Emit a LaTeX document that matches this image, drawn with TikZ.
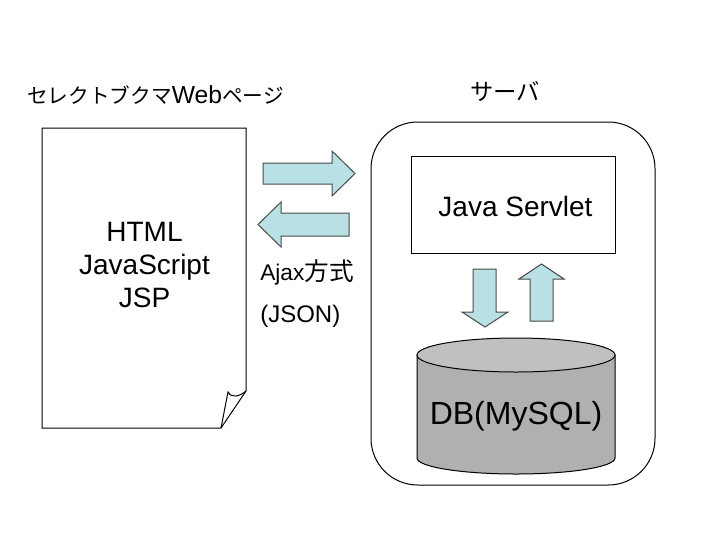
\documentclass[tikz,border=0pt]{standalone}
\usepackage{fontspec}
\setmainfont{Liberation Sans}
\newfontfamily\cjk{Noto Sans CJK JP}
\definecolor{arrowfill}{HTML}{B9E0E4}
\definecolor{arrowline}{HTML}{4A4A4A}
\definecolor{dbtop}{HTML}{C0C0C0}
\definecolor{dbbody}{HTML}{B0B0B0}
\tikzset{
  blockarrow/.style={draw=arrowline,fill=arrowfill,line width=0.75pt,line join=miter},
  outline/.style={draw=black,line width=0.75pt,fill=white},
  label/.style={inner sep=0pt,align=center,text=black}
}
\begin{document}
\begin{tikzpicture}[x=0.75pt,y=-0.75pt]
\useasboundingbox (0,0) rectangle (720,540);
% server
\draw[outline,rounded corners=35pt] (371,122) rectangle (655,485);
% page
\draw[outline] (42,128) -- (246,128) -- (246,391) -- (221,428) -- (42,428) -- cycle;
\draw[black,line width=0.75pt] (246,391) .. controls (240,396) and (232,399) .. (228,392) -- (221,428);
% servlet
\node[outline,draw,minimum width=153pt,minimum height=72.75pt,inner sep=0pt,anchor=center] (servlet) at (513,204.5) {};
\node[label,font=\fontsize{21pt}{24pt}\selectfont] (servlettext) at (515.5,206) {Java Servlet};
% arrows
\draw[blockarrow] (263,163) -- (332,163) -- (332,151) -- (355,173.5) -- (332,196) -- (332,184) -- (263,184) -- cycle;
\draw[blockarrow] (349,213) -- (281,213) -- (281,202) -- (258,224.5) -- (281,247) -- (281,236) -- (349,236) -- cycle;
\draw[blockarrow] (473,269) -- (496,269) -- (496,312) -- (508,312) -- (485,327) -- (462,312) -- (473,312) -- cycle;
\draw[blockarrow] (530,321) -- (553,321) -- (553,279) -- (564,279) -- (541.5,264) -- (519,279) -- (530,279) -- cycle;
% database
\draw[draw=black,line width=0.75pt,fill=dbbody] (417,355) -- (417,458) arc[start angle=180,end angle=0,x radius=99,y radius=16] -- (615,355) -- cycle;
\draw[draw=black,line width=0.75pt,fill=dbtop] (516,355) ellipse[x radius=99,y radius=17];
\node[label,font=\fontsize{24pt}{26pt}\selectfont] (db) at (516,416) {DB(MySQL)};
% texts
\node[label,font=\fontsize{21pt}{24.75pt}\selectfont] (page) at (144.5,265) {HTML\\JavaScript\\JSP};
\node[label,font=\fontsize{15.5pt}{18pt}\selectfont] (pagetitle) at (155.5,95) {{\cjk セレクトブクマ}{\fontsize{18.5pt}{18pt}\selectfont Web}{\cjk ページ}};
\node[label,font=\fontsize{17.5pt}{18pt}\selectfont\cjk] (servertitle) at (505,91) {サーバ};
\node[label,anchor=west,font=\fontsize{17pt}{17pt}\selectfont] (ajax) at (260,272) {Ajax{\fontsize{18.5pt}{17pt}\selectfont\cjk 方式}};
\node[label,anchor=west,font=\fontsize{18pt}{18pt}\selectfont] (json) at (260,316.5) {(JSON)};
\end{tikzpicture}
\end{document}
